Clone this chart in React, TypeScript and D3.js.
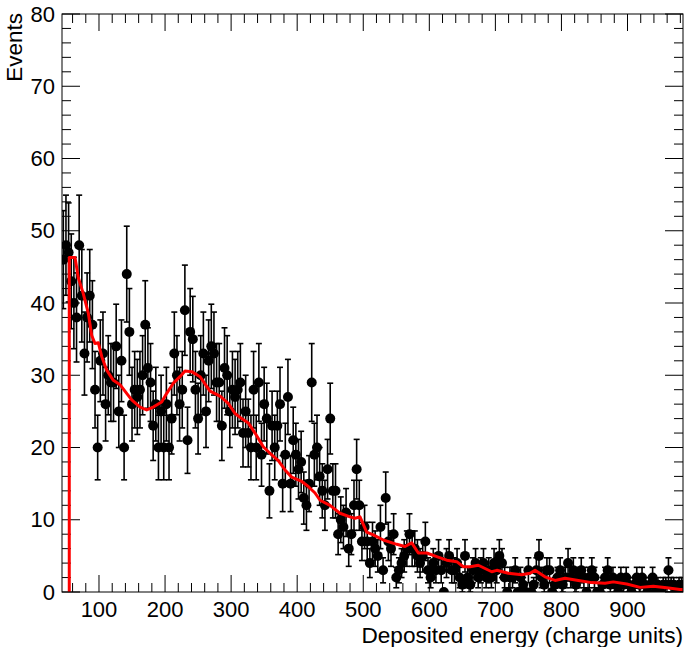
import React from "react";
import * as d3 from "d3";

// ---- data ----
const BIN_START = 44;
const BIN_WIDTH = 4;
const counts: number[] = [
  46, 48, 47, 43, 40, 38, 48, 41, 33, 38, 41, 37, 28, 20, 32, 33, 26, 30, 29, 29,
  34, 25, 32, 20, 44, 36, 26, 28, 27, 28, 30, 37, 31, 29, 23, 26, 20, 25, 20, 26,
  20, 24, 33, 30, 26, 28, 39, 21, 36, 35, 28, 24, 30, 33, 25, 32, 34, 33, 29, 29,
  23, 31, 30, 25, 28, 27, 28, 29, 22, 25, 22, 20, 28, 20, 29, 19, 26, 24, 14, 23,
  20, 23, 26, 15, 19, 27, 15, 21, 19, 17, 18, 13, 12, 15, 29, 19, 20, 16, 14, 12,
  17, 24, 14, 14, 8, 10, 9, 11, 6, 8, 12, 17, 12, 7, 9, 7, 4, 7, 6, 5,
  9, 3, 13, 7, 6, 8, 2, 3, 4, 5, 6, 8, 6, 6, 5, 4, 5, 7, 3, 2,
  4, 3, 5, 3, 0, 4, 5, 3, 3, 4, 2, 1, 5, 2, 1, 3, 4, 2, 3, 4,
  2, 3, 2, 4, 3, 5, 4, 2, 0, 2, 2, 3, 0, 2, 1, 0, 3, 0, 1, 3,
  5, 2, 1, 3, 3, 0, 1, 2, 3, 1, 2, 4, 2, 3, 1, 2, 3, 2, 0, 2,
  3, 2, 0, 0, 1, 2, 3, 1, 2, 1, 0, 2, 1, 2, 1, 0, 1, 2, 1, 2,
  1, 0, 1, 2, 0, 1, 0, 1, 1, 3, 1, 1, 0, 1, 1,
];

const mcEnergy: number[] = [
  55, 55, 63.7, 68.7, 76.2, 83.8, 89, 94, 99, 104.1, 111.7, 121.7, 131.8, 141.9,
  149.5, 162.1, 172.2, 182.2, 194.9, 202.5, 212.5, 222.6, 230.2, 240.3, 252.9,
  268, 283.2, 295.7, 305.9, 316, 326, 336.2, 348.7, 358.9, 371.4, 381.6, 391.7,
  406.9, 416.8, 427, 434.6, 449.7, 464.8, 480, 487.5, 495.1, 505.2, 515.2, 530.4,
  550.7, 563.2, 573.4, 583.4, 596.1, 611.2, 626.4, 641.5, 651.5, 661.7, 674.2,
  694.5, 702.1, 719.6, 739.9, 752.4, 760, 775.1, 790.3, 805.4, 825.6, 845.8, 866,
  878.5, 898.8, 919, 939.1, 959.4, 979.5, 984,
];
const mcValue: number[] = [
  0, 46.3, 46.3, 43.5, 41.3, 38.6, 35.5, 34.4, 34.5, 32.6, 30.7, 29.3, 28.7, 27.5,
  26.6, 25.6, 25.2, 25.6, 26.3, 27.5, 28.9, 29.8, 30.6, 30.5, 29.8,
  27.8, 27.1, 26.1, 24.7, 24.0, 23.4, 22.0, 20.1, 19.2, 18.2, 16.9, 15.9,
  15.3, 14.6, 13.7, 12.7, 12.0, 10.9, 10.4, 10.2, 10.4, 8.3, 7.9, 7.2,
  6.6, 6.3, 6.8, 5.4, 5.4, 4.9, 4.4, 4.2, 3.5, 3.5, 3.7,
  2.8, 3.0, 2.6, 2.4, 2.6, 3.0, 2.1, 1.6, 1.9, 1.6, 1.3, 1.2,
  1.4, 1.1, 0.64, 0.8, 0.6, 0.36, 0.35,
];

const xTicksMajor = [100, 200, 300, 400, 500, 600, 700, 800, 900];
const yTicksMajor = [0, 10, 20, 30, 40, 50, 60, 70, 80];
const xTitle = "Deposited energy (charge units)";
const yTitle = "Events";

const W = 685;
const H = 647;
const FONT = "'Liberation Sans', Arial, Helvetica, sans-serif";

export default function App() {
  const x = d3.scaleLinear().domain([44, 984]).range([62, 683]);
  const y = d3.scaleLinear().domain([0, 80]).range([592, 14]);
  const [x0, x1] = x.range();
  const [yb, yt] = y.range();

  const xMinor = d3.range(60, 984, 20);
  const yMinor = d3.range(0, 80.01, 2);

  const pts = counts.map((c, i) => ({
    e: BIN_START + BIN_WIDTH * (i + 0.5),
    c,
    err: Math.sqrt(c),
  }));

  const line = d3
    .line<number>()
    .x((_, i) => x(mcEnergy[i]))
    .y((d) => y(d))
    .curve(d3.curveLinear);

  return (
    <svg
      width={W}
      height={H}
      style={{ position: "absolute", left: 0, top: 0, background: "#fff" }}
      fontFamily={FONT}
    >
      <defs>
        <clipPath id="frame">
          <rect x={x0} y={yt} width={x1 - x0} height={yb - yt} />
        </clipPath>
      </defs>
      <rect x={0} y={0} width={W} height={H} fill="#fff" />

      {/* ticks */}
      <g stroke="#000" strokeWidth={1}>
        {xMinor.map((v) => {
          const major = v % 100 === 0;
          const len = major ? 17 : 9;
          return (
            <g key={"xm" + v}>
              <line x1={x(v)} x2={x(v)} y1={yb} y2={yb - len} />
              <line x1={x(v)} x2={x(v)} y1={yt} y2={yt + len} />
            </g>
          );
        })}
        {yMinor.map((v) => {
          const major = Math.abs(v % 10) < 1e-6;
          const len = major ? 18 : 9;
          return (
            <g key={"ym" + v}>
              <line x1={x0} x2={x0 + len} y1={y(v)} y2={y(v)} />
              <line x1={x1} x2={x1 - len} y1={y(v)} y2={y(v)} />
            </g>
          );
        })}
      </g>

      {/* data */}
      <g clipPath="url(#frame)">
        <g stroke="#000" strokeWidth={1.6}>
          {pts
            .filter((p) => p.c > 0)
            .map((p, i) => {
              const cx = x(p.e);
              const lo = y(Math.max(0, p.c - p.err));
              const hi = y(p.c + p.err);
              return (
                <g key={"e" + i}>
                  <line x1={cx} x2={cx} y1={lo} y2={hi} />
                  <line x1={cx - 3} x2={cx + 3} y1={lo} y2={lo} />
                  <line x1={cx - 3} x2={cx + 3} y1={hi} y2={hi} />
                </g>
              );
            })}
        </g>
        <g fill="#000">
          {pts.map((p, i) => (
            <circle key={"m" + i} cx={x(p.e)} cy={y(p.c)} r={5} />
          ))}
        </g>
        <path
          d={line(mcValue) || ""}
          fill="none"
          stroke="#ff0000"
          strokeWidth={3}
          strokeLinejoin="round"
        />
      </g>

      {/* frame */}
      <rect
        x={x0}
        y={yt}
        width={x1 - x0}
        height={yb - yt}
        fill="none"
        stroke="#000"
        strokeWidth={1}
      />

      {/* labels */}
      <g fill="#000">
        {xTicksMajor.map((v) => (
          <text key={"xl" + v} x={x(v)} y={617} textAnchor="middle" fontSize={22}>
            {v}
          </text>
        ))}
        {yTicksMajor.map((v) => (
          <text
            key={"yl" + v}
            x={55}
            y={y(v)}
            textAnchor="end"
            dominantBaseline="central"
            fontSize={22}
          >
            {v}
          </text>
        ))}
        <text x={683} y={643} textAnchor="end" fontSize={22.6}>
          {xTitle}
        </text>
        <text transform="translate(22,13) rotate(-90)" textAnchor="end" fontSize={22.5}>
          {yTitle}
        </text>
      </g>
    </svg>
  );
}
